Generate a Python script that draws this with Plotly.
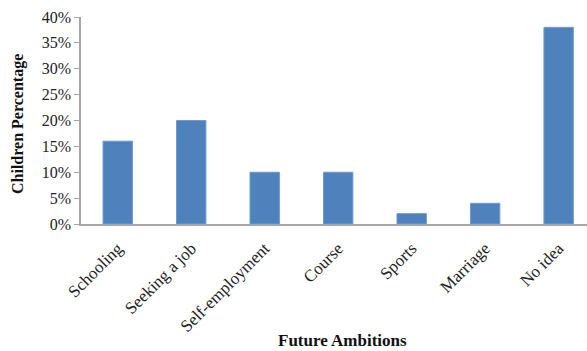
import plotly.graph_objects as go

categories = ["Schooling", "Seeking a job", "Self-employment", "Course", "Sports", "Marriage", "No idea"]
values = [0.16, 0.20, 0.10, 0.10, 0.02, 0.04, 0.38]
y_ticks = [0, 0.05, 0.10, 0.15, 0.20, 0.25, 0.30, 0.35, 0.40]
y_tick_labels = ["0%", "5%", "10%", "15%", "20%", "25%", "30%", "35%", "40%"]

FONT = "Liberation Serif, Times New Roman, serif"

fig = go.Figure(go.Bar(
    x=list(range(len(categories))),
    y=values,
    width=0.4,
    marker=dict(color="#4F81BD", line=dict(color="#6F9AD0", width=1)),
))

fig.update_layout(
    width=587, height=351,
    margin=dict(l=81, r=0, t=17, b=127),
    paper_bgcolor="white", plot_bgcolor="white",
    showlegend=False,
    font=dict(family=FONT, size=15, color="#222222"),
    xaxis=dict(
        range=[-0.5, 6.386],
        tickmode="array",
        tickvals=list(range(len(categories))),
        ticktext=categories,
        tickangle=-45,
        showgrid=False,
        showline=True, linecolor="#A6A6A6", linewidth=1.5,
        ticks="outside", ticklen=6, tickcolor="rgba(0,0,0,0)",
        tickfont=dict(family=FONT, size=17, color="#222222"),
        zeroline=False,
    ),
    yaxis=dict(
        range=[0, 0.4],
        tickmode="array",
        tickvals=y_ticks,
        ticktext=y_tick_labels,
        showgrid=False,
        showline=True, linecolor="#A6A6A6", linewidth=1.5,
        ticks="outside", ticklen=5, tickcolor="#A6A6A6",
        tickfont=dict(family=FONT, size=16, color="#222222"),
        zeroline=False,
    ),
    annotations=[
        dict(text="<b>Future Ambitions</b>", xref="paper", yref="paper",
             x=(342 - 81) / (587 - 81), y=-(340 - 224) / 207, xanchor="center", yanchor="middle",
             showarrow=False, font=dict(family=FONT, size=17, color="#111111")),
        dict(text="<b>Children Percentage</b>", xref="paper", yref="paper",
             x=-(81 - 18) / (587 - 81), y=(224 - 124) / 207, xanchor="center", yanchor="middle",
             textangle=-90, showarrow=False, font=dict(family=FONT, size=16, color="#111111")),
    ],
)

fig.write_html("out.html")
